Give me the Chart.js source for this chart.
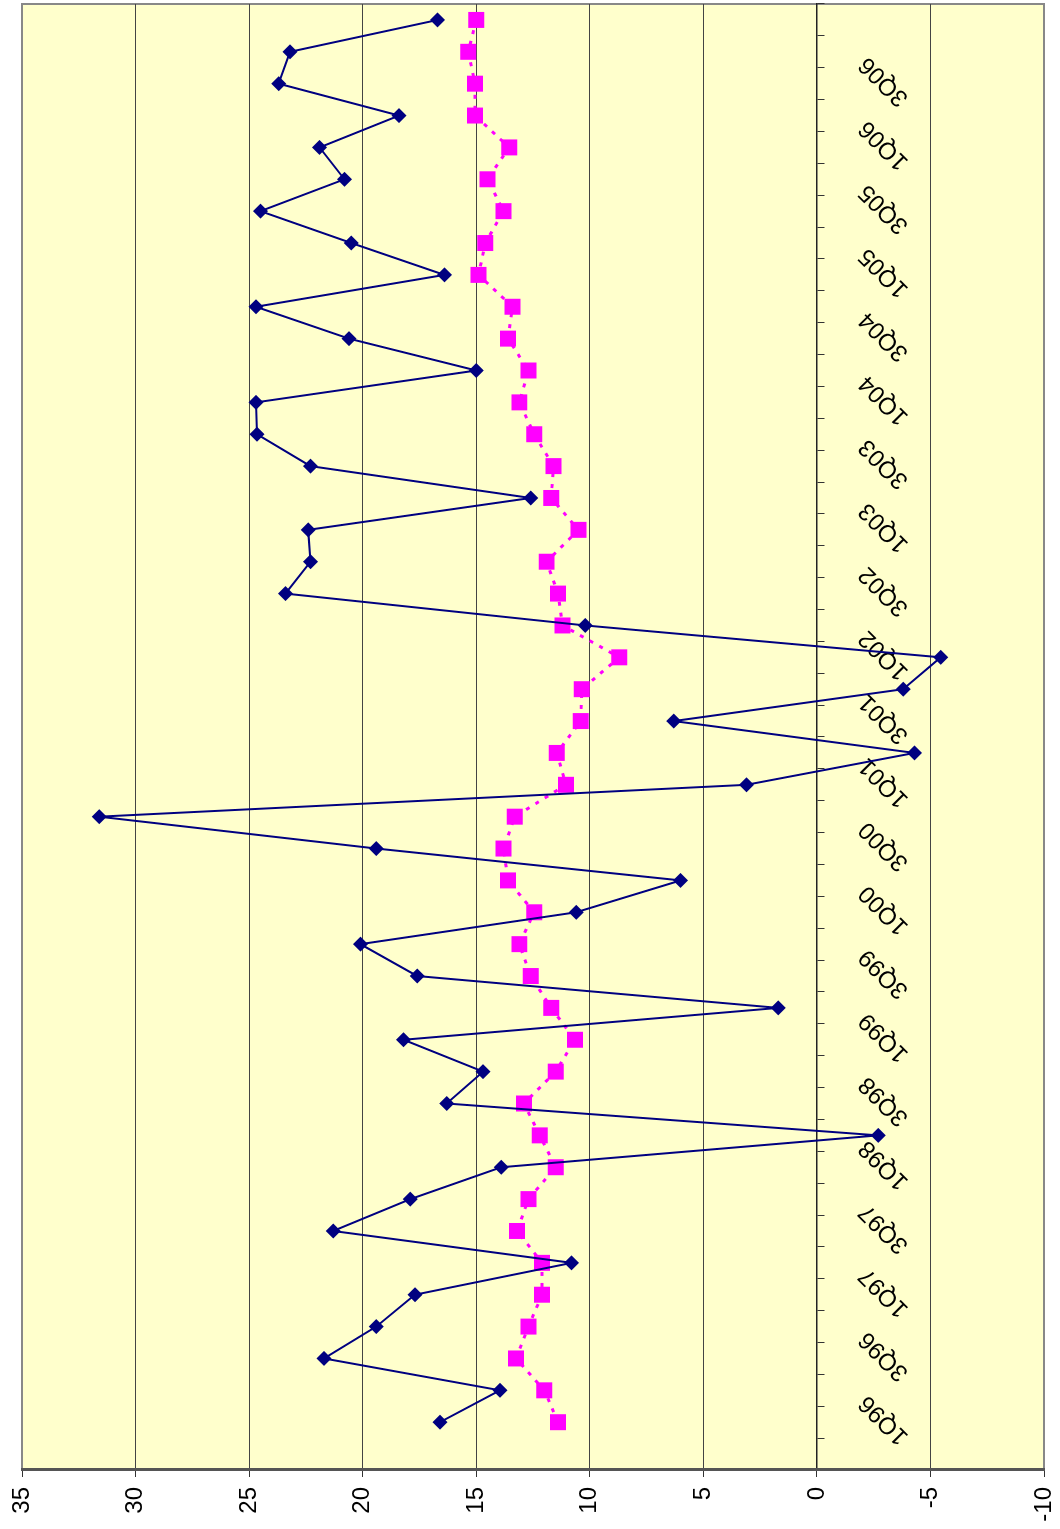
<!DOCTYPE html>
<html>
<head>
<meta charset="utf-8">
<script src="https://cdn.jsdelivr.net/npm/chart.js@4.4.1/dist/chart.umd.min.js"></script>
<style>
  html, body { margin: 0; padding: 0; background: #fff; }
  #pagina { position: relative; width: 1060px; height: 1529px; overflow: hidden; }
  /* el grafico se dibuja horizontal y se gira 90 grados */
  #giro { position: absolute; left: 0; top: 0; width: 1529px; height: 1060px;
          transform-origin: 0 0; transform: translate(0, 1529px) rotate(-90deg); }
</style>
</head>
<body>
<div id="pagina"><div id="giro"><canvas id="grafico" width="1529" height="1060"></canvas></div></div>
<script>
const trimestres = ['',
    '1Q96', '2Q96', '3Q96', '4Q96', '1Q97', '2Q97', '3Q97', '4Q97',
    '1Q98', '2Q98', '3Q98', '4Q98', '1Q99', '2Q99', '3Q99', '4Q99',
    '1Q00', '2Q00', '3Q00', '4Q00', '1Q01', '2Q01', '3Q01', '4Q01',
    '1Q02', '2Q02', '3Q02', '4Q02', '1Q03', '2Q03', '3Q03', '4Q03',
    '1Q04', '2Q04', '3Q04', '4Q04', '1Q05', '2Q05', '3Q05', '4Q05',
    '1Q06', '2Q06', '3Q06', '4Q06', '1Q07'];

const etiquetasVisibles = ['1Q96', '3Q96', '1Q97', '3Q97', '1Q98', '3Q98', '1Q99', '3Q99',
    '1Q00', '3Q00', '1Q01', '3Q01', '1Q02', '3Q02', '1Q03', '3Q03',
    '1Q04', '3Q04', '1Q05', '3Q05', '1Q06', '3Q06'];

const valoresSerie1 = [null,
    16.6, 13.95, 21.7, 19.4, 17.7, 10.8, 21.3, 17.9,
    13.9, -2.7, 16.3, 14.7, 18.2, 1.7, 17.6, 20.1,
    10.6, 6.0, 19.4, 31.6, 3.1, -4.3, 6.3, -3.8,
    -5.45, 10.2, 23.4, 22.3, 22.4, 12.6, 22.3, 24.65,
    24.7, 15.0, 20.6, 24.7, 16.4, 20.5, 24.5, 20.8,
    21.9, 18.4, 23.7, 23.2, 16.7];

const valoresSerie2 = [null,
    11.4, 12.0, 13.25, 12.7, 12.1, 12.1, 13.2, 12.7,
    11.5, 12.2, 12.9, 11.5, 10.65, 11.7, 12.6, 13.1,
    12.45, 13.6, 13.8, 13.3, 11.05, 11.45, 10.4, 10.35,
    8.7, 11.2, 11.4, 11.9, 10.5, 11.7, 11.6, 12.45,
    13.1, 12.7, 13.6, 13.4, 14.9, 14.6, 13.8, 14.5,
    13.55, 15.05, 15.05, 15.35, 15.0];

const ejeMin = -10, ejeMax = 35, ejePaso = 5;

// fondo amarillo y marco gris del area de trazado
const fondoArea = {
    id: 'fondoArea',
    beforeDraw(chart) {
        const { ctx, chartArea: a } = chart;
        ctx.save();
        ctx.fillStyle = '#FFFFCC';
        ctx.fillRect(a.left, a.top, a.right - a.left, a.bottom - a.top);
        ctx.strokeStyle = '#888888';
        ctx.lineWidth = 2;
        ctx.strokeRect(a.left, a.top, a.right - a.left, a.bottom - a.top);
        ctx.restore();
    }
};

// que las etiquetas no empujen el area de trazado
function sinRelleno(escala) {
    escala.paddingLeft = 0;
    escala.paddingRight = 0;
    escala.paddingTop = 0;
    escala.paddingBottom = 0;
}

Chart.defaults.font.family = '"Liberation Sans", Arial, sans-serif';
Chart.defaults.font.size = 24;
Chart.defaults.color = '#000';

new Chart(document.getElementById('grafico'), {
    type: 'line',
    data: {
        labels: trimestres,
        datasets: [
            {
                label: 'Serie 1', data: valoresSerie1,
                borderColor: '#000080', backgroundColor: '#000080',
                borderWidth: 2, pointStyle: 'rectRot', pointRadius: 7.5,
                pointBorderWidth: 0, pointHoverRadius: 7.5, tension: 0
            },
            {
                label: 'Serie 2', data: valoresSerie2,
                borderColor: '#FF00FF', backgroundColor: '#FF00FF',
                borderWidth: 3, borderDash: [4, 7], pointStyle: 'rect', pointRadius: 11.3,
                pointBorderWidth: 0, pointHoverRadius: 11.3, tension: 0
            }
        ]
    },
    options: {
        responsive: false,
        animation: false,
        devicePixelRatio: 1,
        layout: { autoPadding: false, padding: { left: 0, right: 4, top: 22, bottom: 16 } },
        plugins: { legend: { display: false }, tooltip: { enabled: false } },
        scales: {
            x: {
                type: 'category',
                position: { y: 0 },
                offset: true,
                afterFit: sinRelleno,
                grid: { offset: true, drawOnChartArea: false, drawTicks: true, tickLength: 7, tickColor: '#333', tickWidth: 1 },
                border: { color: '#222', width: 1.5 },
                ticks: {
                    autoSkip: false, minRotation: 45, maxRotation: 45,
                    padding: 29, labelOffset: 23,
                    callback: function(valor) {
                        const t = this.getLabelForValue(valor);
                        return etiquetasVisibles.includes(t) ? t : '';
                    }
                }
            },
            y: {
                min: ejeMin, max: ejeMax,
                afterFit: (escala) => { escala.width = 59; sinRelleno(escala); },
                grid: {
                    color: (c) => (c.tick && (c.tick.value === ejeMax || c.tick.value === ejeMin)) ? 'rgba(0,0,0,0)' : '#444',
                    lineWidth: 1, tickLength: 7, tickColor: '#333'
                },
                border: { color: '#555', width: 3 },
                ticks: { stepSize: ejePaso, padding: 10 }
            }
        }
    },
    plugins: [fondoArea]
});
</script>
</body>
</html>
